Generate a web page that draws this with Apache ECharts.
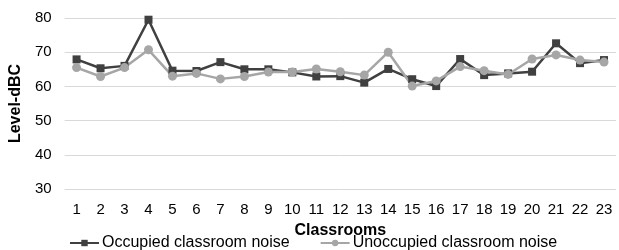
<!DOCTYPE html>
<html>
<head>
<meta charset="utf-8">
<script src="https://cdn.jsdelivr.net/npm/echarts@6/dist/echarts.min.js"></script>
<style>
  html, body { margin: 0; padding: 0; background: #fff; }
  #chart { width: 619px; height: 250px; }
</style>
</head>
<body>
<div id="chart"></div>
<script>
// classrooms 1..23
const classrooms = ["1", "2", "3", "4", "5", "6", "7", "8", "9", "10", "11", "12",
  "13", "14", "15", "16", "17", "18", "19", "20", "21", "22", "23"];

// noise level, dBC
const occupied = [67.9, 65.3, 66, 79.5, 64.6, 64.5, 67.1, 65, 65, 64.1, 62.9, 63,
  61.1, 65.1, 62.1, 60.1, 68, 63.3, 63.8, 64.3, 72.6, 66.8, 67.7];
const unoccupied = [65.5, 62.9, 65.5, 70.7, 63, 63.8, 62.2, 62.9, 64.2, 64.2, 65.1, 64.3,
  63.3, 70, 60.1, 61.6, 65.8, 64.6, 63.5, 68, 69.2, 67.7, 67.1];

const chart = echarts.init(document.getElementById("chart"));

const font = "Liberation Sans, Arial, sans-serif";

chart.setOption({
  animation: false,
  backgroundColor: "#fff",
  textStyle: { fontFamily: font },
  grid: { left: 61, right: 3, top: 18, bottom: 61 },
  legend: {
    top: 230,
    left: 64,
    itemGap: 30,
    itemWidth: 29,
    itemHeight: 8,
    textStyle: { fontFamily: font, fontSize: 16, color: "#000", padding: [0, 0, 0, -2] },
    data: ["Occupied classroom noise", "Unoccupied classroom noise"]
  },
  xAxis: {
    type: "category",
    data: classrooms,
    name: "Classrooms",
    nameLocation: "middle",
    nameGap: 34,
    nameTextStyle: { fontFamily: font, fontSize: 16, fontWeight: "bold", color: "#000" },
    axisLine: { show: false },
    axisTick: { show: false },
    axisLabel: { color: "#000", fontSize: 15, margin: 13, interval: 0 }
  },
  yAxis: {
    type: "value",
    min: 30,
    max: 80,
    interval: 10,
    name: "Level-dBC",
    nameLocation: "middle",
    nameGap: 30,
    nameTextStyle: { fontFamily: font, fontSize: 16, fontWeight: "bold", color: "#000" },
    axisLabel: { color: "#000", fontSize: 15, margin: 13 },
    splitLine: { lineStyle: { color: "#d9d9d9", width: 1 } }
  },
  series: [
    {
      name: "Occupied classroom noise",
      type: "line",
      data: occupied,
      symbol: "rect",
      symbolSize: 8,
      lineStyle: { color: "#404040", width: 2.5 },
      itemStyle: { color: "#404040" }
    },
    {
      name: "Unoccupied classroom noise",
      type: "line",
      data: unoccupied,
      symbol: "circle",
      symbolSize: 9,
      lineStyle: { color: "#a6a6a6", width: 2.5 },
      itemStyle: { color: "#a6a6a6" }
    }
  ]
});
</script>
</body>
</html>
